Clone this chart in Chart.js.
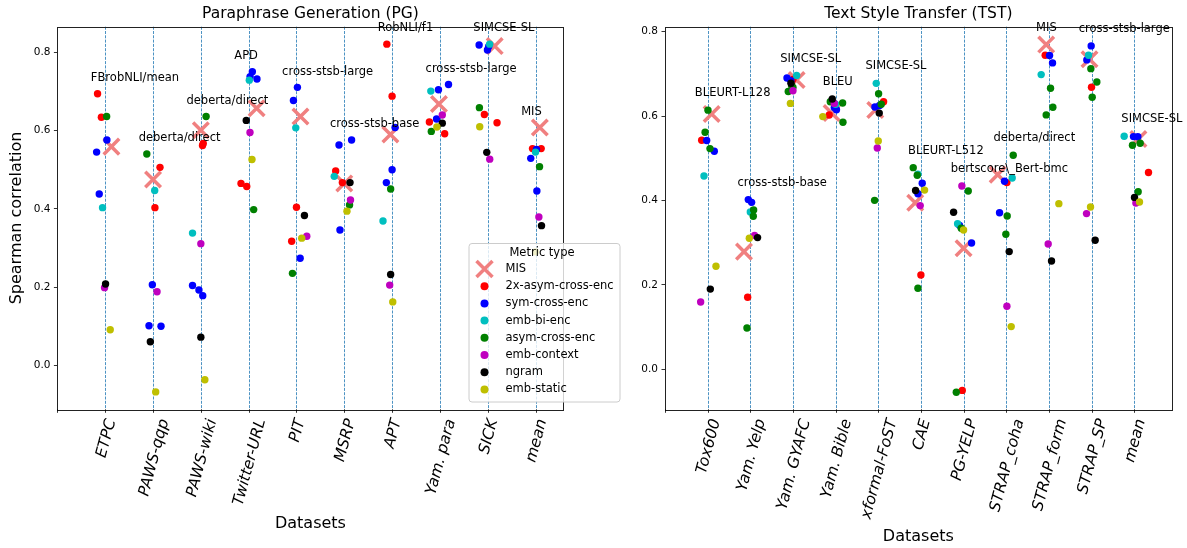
<!DOCTYPE html>
<html><head><meta charset="utf-8">
<script src="https://cdn.jsdelivr.net/npm/chart.js@4.4.1/dist/chart.umd.min.js"></script>
<style>
html,body{margin:0;padding:0;background:#fff;}
#wrap{position:relative;width:1187px;height:548px;overflow:hidden;background:#fff;}
canvas{position:absolute;left:0;top:0;}
</style></head><body>
<div id="wrap"><canvas id="pg" width="1187" height="548"></canvas><canvas id="tst" width="1187" height="548"></canvas></div>
<script>
// ---------- DATA ----------
const PG_CATEGORIES = ['ETPC','PAWS-qqp','PAWS-wiki','Twitter-URL','PIT','MSRP','APT','Yam. para','SICK','mean'];
const PG_BEST = ['FBrobNLI/mean','deberta/direct','deberta/direct','APD','cross-stsb-large','cross-stsb-base','RobNLI/f1','cross-stsb-large','SIMCSE-SL','MIS'];
const TST_CATEGORIES = ['Tox600','Yam. Yelp','Yam. GYAFC','Yam. Bible','xformal-FoST','CAE','PG-YELP','STRAP_coha','STRAP_form','STRAP_SP','mean'];
const TST_BEST = ['BLEURT-L128','cross-stsb-base','SIMCSE-SL','BLEU','SIMCSE-SL','BLEURT-L512','bertscore\\_Bert-bmc','deberta/direct','MIS','cross-stsb-large','SIMCSE-SL'];
const Y_TICKS = [0.0, 0.2, 0.4, 0.6, 0.8];
const SERIES_NAMES = ['2x-asym-cross-enc','sym-cross-enc','emb-bi-enc','asym-cross-enc','emb-context','ngram','emb-static'];

// points: [category index, spearman value, horizontal jitter]
const PG_MIS = [[0,0.559,0.13],[1,0.475,0],[2,0.601,0],[3,0.657,0.167],[4,0.636,0.084],[5,0.465,0],[6,0.590,-0.035],[7,0.668,-0.02],[8,0.816,0.146],[9,0.608,0.09]];
const PG_2X_ASYM = [[0,0.694,-0.16],[0,0.634,-0.08],[1,0.506,0.146],[1,0.403,0.04],[2,0.567,0.05],[2,0.562,0.035],[3,0.465,-0.16],[3,0.457,-0.04],[4,0.404,0],[4,0.317,-0.1],[5,0.497,-0.18],[5,0.467,-0.04],[6,0.821,-0.11],[6,0.688,0],[7,0.622,-0.22],[7,0.592,0.1],[8,0.641,-0.07],[8,0.620,0.195],[9,0.554,-0.063],[9,0.554,0.118]];
const PG_SYM = [[0,0.576,0.035],[0,0.545,-0.18],[0,0.438,-0.125],[1,0.206,-0.014],[1,0.101,-0.084],[1,0.100,0.167],[2,0.204,-0.174],[2,0.1925,-0.04],[2,0.178,0.04],[3,0.7506,0.077],[3,0.738,0.03],[3,0.732,0.174],[4,0.7105,0.02],[4,0.677,-0.063],[4,0.2735,0.077],[5,0.576,0.153],[5,0.563,-0.11],[5,0.346,-0.09],[6,0.608,0.063],[6,0.500,0],[6,0.467,-0.12],[7,0.718,0.18],[7,0.7046,-0.03],[7,0.6296,-0.07],[8,0.819,-0.18],[8,0.806,-0.006],[8,0.815,0.02],[9,0.552,0.02],[9,0.529,-0.1],[9,0.4456,0.028]];
const PG_BI = [[0,0.403,-0.056],[1,0.447,0.035],[2,0.338,-0.174],[3,0.729,0.014],[4,0.607,-0.014],[5,0.483,-0.21],[6,0.369,-0.19],[7,0.701,-0.19],[8,0.821,0.04],[9,0.545,0]];
const PG_ASYM = [[0,0.636,0.03],[1,0.540,-0.13],[2,0.636,0.11],[3,0.398,0.105],[4,0.235,-0.084],[5,0.41,0.11],[6,0.4507,-0.03],[7,0.598,-0.18],[8,0.6586,-0.174],[9,0.5078,0.084]];
const PG_CTX = [[0,0.1985,-0.014],[1,0.188,0.084],[2,0.311,0],[3,0.595,0.028],[4,0.33,0.216],[5,0.4226,0.13],[6,0.205,-0.05],[7,0.64,0.05],[8,0.527,0.042],[9,0.379,0.07]];
const PG_NGRAM = [[0,0.208,0.007],[1,0.060,-0.056],[2,0.072,0],[3,0.626,-0.05],[4,0.383,0.167],[5,0.467,0.12],[6,0.232,-0.03],[7,0.619,0.05],[8,0.5444,-0.02],[9,0.357,0.125]];
const PG_STATIC = [[0,0.091,0.105],[1,-0.068,0.056],[2,-0.037,0.084],[3,0.526,0.07],[4,0.325,0.11],[5,0.394,0.056],[6,0.162,0.014],[7,0.609,-0.063],[8,0.61,-0.167],[9,0.29,0]];

const TST_MIS = [[0,0.605,0.094],[1,0.2788,-0.148],[2,0.6855,0.086],[3,0.6073,-0.094],[4,0.6145,-0.07],[5,0.3947,-0.133],[6,0.2866,0],[7,0.4612,-0.2],[8,0.7693,-0.0625],[9,0.7346,-0.047],[10,0.5458,0.1]];
const TST_2X_ASYM = [[0,0.5425,-0.14],[1,0.1706,-0.062],[2,0.687,0],[3,0.6026,-0.15],[4,0.6339,0.125],[5,0.2234,0],[6,-0.05,-0.03],[7,0.4423,0.016],[8,0.744,-0.086],[9,0.6681,0],[10,0.4664,0.336]];
const TST_SYM = [[0,0.542,-0.023],[0,0.5165,0.156],[1,0.402,-0.047],[1,0.3955,0.031],[2,0.690,-0.14],[2,0.684,-0.05],[3,0.62,-0.03],[3,0.615,0.02],[4,0.6216,-0.078],[4,0.625,0.03],[5,0.4407,0.031],[5,0.416,-0.07],[6,0.341,-0.094],[6,0.2993,0.1875],[7,0.4455,-0.04],[7,0.371,-0.156],[8,0.7433,0.016],[8,0.7259,0.086],[9,0.7662,-0.008],[9,0.733,-0.11],[10,0.5513,-0.016],[10,0.551,0.086]];
const TST_BI = [[0,0.458,-0.086],[1,0.3728,0],[2,0.696,0.086],[3,0.628,0],[4,0.6775,-0.047],[5,0.4625,-0.07],[6,0.345,-0.14],[7,0.4533,0.14],[8,0.6982,-0.18],[9,0.744,-0.07],[10,0.5521,-0.234]];
const TST_ASYM = [[0,0.614,0.008],[0,0.5615,-0.06],[0,0.5229,0.055],[1,0.3775,0.078],[1,0.3625,0.07],[1,0.098,-0.078],[2,0.658,-0.11],[2,0.668,0],[2,0.672,-0.03],[3,0.634,-0.125],[3,0.631,0.164],[3,0.5853,0.172],[4,0.653,0.008],[4,0.628,0.07],[4,0.4003,-0.086],[5,0.4777,-0.18],[5,0.4597,-0.086],[5,0.1919,-0.07],[6,0.4225,0.11],[6,0.334,-0.055],[6,-0.0544,-0.17],[7,0.507,0.164],[7,0.3632,0.023],[7,0.3199,-0.008],[8,0.6658,0.039],[8,0.6208,0.094],[8,0.6027,-0.0625],[9,0.7123,-0.016],[9,0.6807,0.125],[9,0.6445,0.016],[10,0.5355,0.14],[10,0.5308,-0.04],[10,0.4207,0.094]];
const TST_CTX = [[0,0.1595,-0.164],[1,0.317,0.1],[2,0.660,0],[3,0.63,-0.03],[4,0.5243,-0.023],[5,0.3878,-0.016],[6,0.4344,-0.04],[7,0.1493,0.016],[8,0.2969,-0.016],[9,0.3689,-0.117],[10,0.3938,0.04]];
const TST_NGRAM = [[0,0.19,0.0625],[1,0.312,0.17],[2,0.6777,-0.047],[3,0.6405,-0.078],[4,0.607,0.023],[5,0.4237,-0.125],[6,0.372,-0.234],[7,0.2788,0.07],[8,0.2566,0.0625],[9,0.3057,0.086],[10,0.4073,0.008]];
const TST_STATIC = [[0,0.244,0.195],[1,0.3104,-0.023],[2,0.63,-0.06],[3,0.5987,-0.3],[4,0.5408,0],[5,0.4245,0.086],[6,0.330,0],[7,0.1011,0.117],[8,0.3925,0.234],[9,0.3846,-0.023],[10,0.3962,0.125]];

// ---------- STYLE ----------
const FONT = "'DejaVu Sans', sans-serif";
const SERIES_COLORS = ['#ff0000','#0000ff','#00bfbf','#008000','#bf00bf','#000000','#bfbf00'];
const MIS_COLOR = '#F08080';
Chart.defaults.font.family = FONT;

function toPoints(arr) { return arr.map(p => ({x: p[0] + p[2], y: p[1]})); }

function decoPlugin(o) {
  return {
    id: 'deco',
    beforeDatasetsDraw(chart) {
      const {ctx, chartArea: a, scales: {x}} = chart;
      ctx.save();
      ctx.strokeStyle = '#1f77b4'; ctx.lineWidth = 0.8; ctx.setLineDash([3, 1.3]);
      o.categories.forEach((c, i) => {
        const px = Math.round(x.getPixelForValue(i)) + 0.5;
        ctx.beginPath(); ctx.moveTo(px, a.top); ctx.lineTo(px, a.bottom); ctx.stroke();
      });
      ctx.restore();
    },
    afterDraw(chart) {
      const {ctx, chartArea: a, scales: {x, y}} = chart;
      ctx.save();
      // frame
      ctx.strokeStyle = '#222'; ctx.lineWidth = 1;
      ctx.strokeRect(Math.round(a.left) + 0.5, Math.round(a.top) + 0.5, Math.round(a.right - a.left), Math.round(a.bottom - a.top));
      // x tick marks
      ctx.strokeStyle = '#000'; ctx.lineWidth = 0.8;
      [-1, ...o.categories.map((c, i) => i)].forEach(v => {
        const px = Math.round(x.getPixelForValue(v)) + 0.5;
        ctx.beginPath(); ctx.moveTo(px, a.bottom); ctx.lineTo(px, a.bottom + 3.5); ctx.stroke();
      });
      // x tick labels (rotated 75deg, bbox centred on tick like matplotlib)
      const fs = 15.5, th = 75 * Math.PI / 180, s = Math.sin(th), c = Math.cos(th);
      const asc = 0.93 * fs, desc = 0.24 * fs;
      const top = a.bottom + 7.5;
      ctx.font = 'italic ' + fs + 'px ' + FONT;
      ctx.fillStyle = '#000'; ctx.textAlign = 'left'; ctx.textBaseline = 'alphabetic';
      let maxBottom = 0;
      o.categories.forEach((lab, i) => {
        const L = ctx.measureText(lab).width;
        const tx = x.getPixelForValue(i);
        const xmin = -asc * s, xmax = L * c + desc * s;
        const x0 = tx - (xmin + xmax) / 2;
        const y0 = top + L * s + asc * c;
        maxBottom = Math.max(maxBottom, y0 + desc * c);
        ctx.save(); ctx.translate(x0, y0); ctx.rotate(-th); ctx.fillText(lab, 0, 0); ctx.restore();
      });
      const cx = (a.left + a.right) / 2;
      // x axis label
      ctx.font = '16px ' + FONT; ctx.textAlign = 'center'; ctx.textBaseline = 'middle';
      ctx.fillText('Datasets', cx, maxBottom + 6 + 10.5);
      // title
      ctx.font = '15.5px ' + FONT;
      ctx.fillText(o.title, cx, 14);
      // y label
      if (o.ylabel) {
        ctx.save(); ctx.font = '16px ' + FONT;
        ctx.translate(17, (a.top + a.bottom) / 2); ctx.rotate(-Math.PI / 2);
        ctx.fillText(o.ylabel, 0, 0); ctx.restore();
      }
      // best-metric annotations
      ctx.font = '11.5px ' + FONT; ctx.textAlign = 'left'; ctx.textBaseline = 'middle';
      o.best.forEach((txt, i) => {
        let m = -Infinity;
        o.allSeries.forEach(ser => ser.forEach(p => { if (p[0] === i) m = Math.max(m, p[1]); }));
        ctx.fillText(txt, x.getPixelForValue(i - 0.3), y.getPixelForValue(m + 0.04));
      });
      // legend
      if (o.legend) {
        const L = o.legend;
        ctx.fillStyle = 'rgba(255,255,255,0.8)'; ctx.strokeStyle = '#cccccc'; ctx.lineWidth = 1;
        ctx.beginPath(); ctx.roundRect(L.x + 0.5, L.y + 0.5, L.w, L.h, 3); ctx.fill(); ctx.stroke();
        ctx.fillStyle = '#000'; ctx.font = '11.5px ' + FONT; ctx.textAlign = 'center'; ctx.textBaseline = 'middle';
        ctx.fillText('Metric type', L.x + L.w / 2 - 2, L.y + 10);
        ctx.textAlign = 'left';
        const items = [{name: 'MIS', color: MIS_COLOR, cross: true}].concat(SERIES_NAMES.map((n, k) => ({name: n, color: SERIES_COLORS[k]})));
        items.forEach((it, k) => {
          const yy = L.y + 26 + k * 17.2;
          const mx = L.x + 16;
          if (it.cross) {
            ctx.strokeStyle = it.color; ctx.lineWidth = 3.5;
            ctx.beginPath(); ctx.moveTo(mx - 8, yy - 8); ctx.lineTo(mx + 8, yy + 8); ctx.moveTo(mx + 8, yy - 8); ctx.lineTo(mx - 8, yy + 8); ctx.stroke();
          } else {
            ctx.fillStyle = it.color; ctx.beginPath(); ctx.arc(mx, yy, 4, 0, Math.PI * 2); ctx.fill();
          }
          ctx.fillStyle = '#000'; ctx.fillText(it.name, L.x + 37, yy);
        });
      }
      ctx.restore();
    }
  };
}

function makeChart(id, o) {
  const datasets = [{
    label: 'MIS', data: toPoints(o.mis), pointStyle: 'crossRot', pointRadius: 11, pointHoverRadius: 11,
    pointBorderColor: MIS_COLOR, pointBackgroundColor: MIS_COLOR, pointBorderWidth: 3.5, order: 8
  }].concat(o.series.map((ser, k) => ({
    label: SERIES_NAMES[k], data: toPoints(ser), pointStyle: 'circle', pointRadius: 3.7, pointHoverRadius: 3.7,
    pointBackgroundColor: SERIES_COLORS[k], pointBorderWidth: 0, order: 7 - k
  })));
  return new Chart(document.getElementById(id), {
    type: 'scatter',
    data: {datasets},
    options: {
      responsive: false, animation: false, devicePixelRatio: 1,
      layout: {padding: o.padding},
      plugins: {legend: {display: false}, tooltip: {enabled: false}, title: {display: false}},
      events: [],
      scales: {
        x: {type: 'linear', display: false, min: o.xmin, max: o.xmax},
        y: {
          type: 'linear', min: o.ymin, max: o.ymax,
          afterBuildTicks: sc => { sc.ticks = Y_TICKS.map(v => ({value: v})); },
          afterFit: sc => { sc.width = 50; },
          grid: {display: true, drawOnChartArea: false, drawTicks: true, tickLength: 3.5, tickWidth: 0.8, tickColor: '#000', color: '#000'},
          border: {display: false},
          ticks: {color: '#000', padding: 3.5, font: {size: 10.5, family: FONT}, callback: v => Number(v).toFixed(1)}
        }
      }
    },
    plugins: [decoPlugin(o)]
  });
}

const pgSeries = [PG_2X_ASYM, PG_SYM, PG_BI, PG_ASYM, PG_CTX, PG_NGRAM, PG_STATIC];
makeChart('pg', {
  title: 'Paraphrase Generation (PG)', ylabel: 'Spearman correlation',
  categories: PG_CATEGORIES, best: PG_BEST, mis: PG_MIS, series: pgSeries,
  allSeries: [PG_MIS].concat(pgSeries),
  xmin: -1, xmax: 9.585, ymin: -0.1125, ymax: 0.8656,
  padding: {left: 7.4, right: 1187 - 563.5, top: 26.7, bottom: 548 - 409.3},
  legend: {x: 468.5, y: 243, w: 151, h: 158.5}
});
const tstSeries = [TST_2X_ASYM, TST_SYM, TST_BI, TST_ASYM, TST_CTX, TST_NGRAM, TST_STATIC];
makeChart('tst', {
  title: 'Text Style Transfer (TST)', ylabel: null,
  categories: TST_CATEGORIES, best: TST_BEST, mis: TST_MIS, series: tstSeries,
  allSeries: [TST_MIS].concat(tstSeries),
  xmin: -1, xmax: 10.88, ymin: -0.0948, ymax: 0.8117,
  padding: {left: 615, right: 1187 - 1171.7, top: 26.7, bottom: 548 - 409.3},
  legend: null
});
</script>
</body></html>
